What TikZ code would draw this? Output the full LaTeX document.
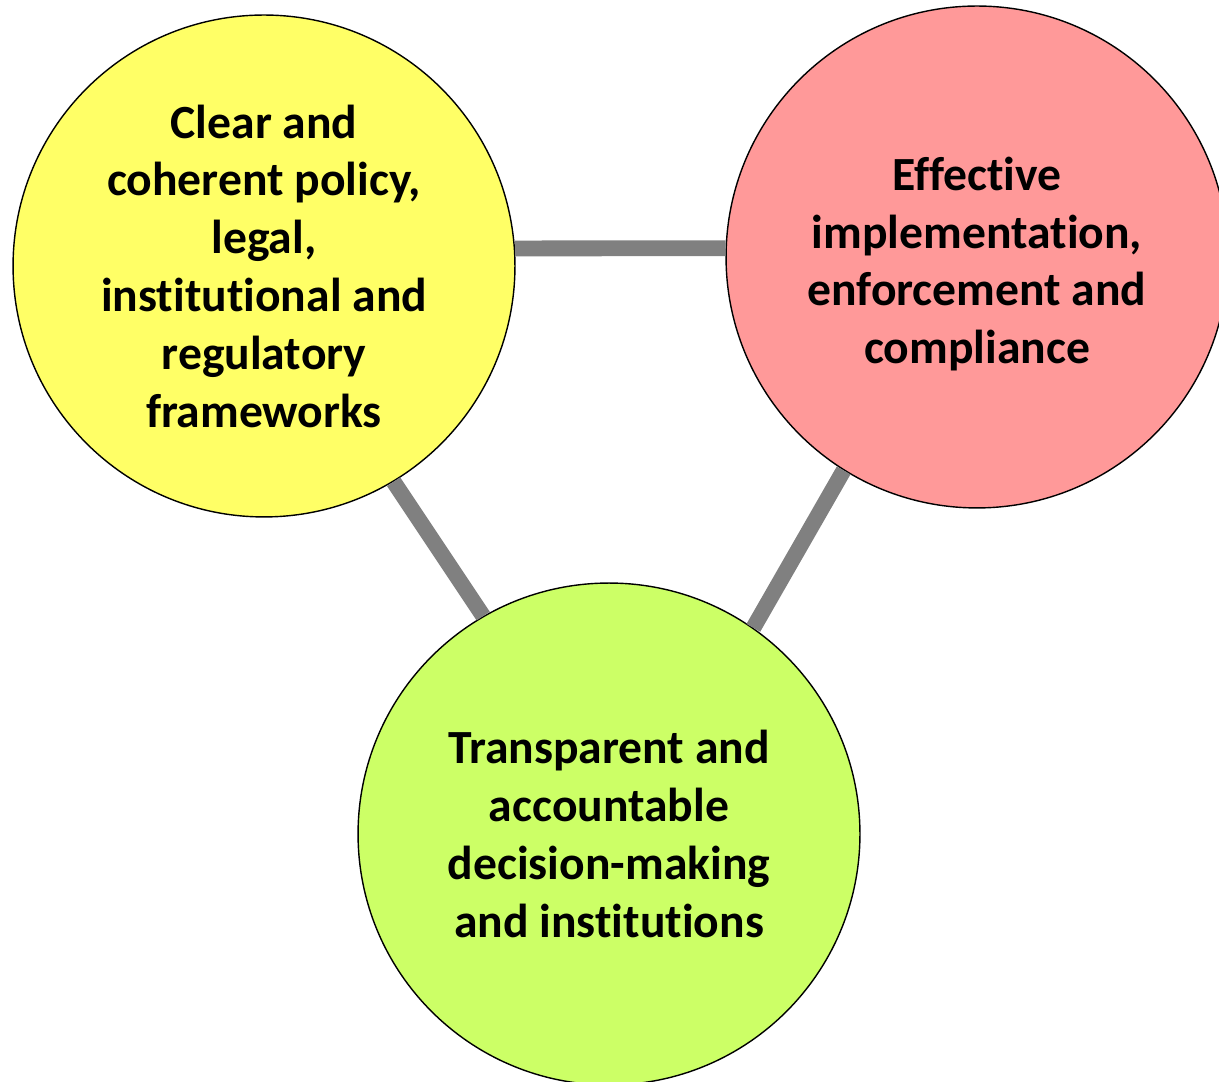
\documentclass[tikz,border=0pt]{standalone}
\usepackage{fontspec}
\setmainfont{Carlito}[Ligatures={NoCommon}]
\usepackage{tikz}

\definecolor{yelfill}{RGB}{255,255,102}
\definecolor{pnkfill}{RGB}{255,153,153}
\definecolor{grnfill}{RGB}{204,255,102}
\definecolor{linkgray}{RGB}{128,128,128}

\begin{document}
\begin{tikzpicture}[x=0.02cm, y=0.02cm,
  txt/.style={align=center, inner sep=0pt, font=\bfseries\fontsize{27.1}{32.9}\selectfont},
  disc/.style={txt, circle, draw=black, line width=0.8pt, minimum size=\Dc},
  link/.style={draw=linkgray, line width=\Lw}]
\newcommand{\Dc}{10.04cm};
\newcommand{\Lw}{9pt};
\useasboundingbox (0, 0) rectangle (1219, 1081);

% circles
\node[disc, fill=yelfill] (Yc) at (264, 815) {Clear and\\coherent policy,\\legal,\\institutional and\\regulatory\\frameworks};
\node[disc, fill=pnkfill] (Pc) at (977, 824) {};
\node[txt] (Pt) at ([yshift=-0.14cm]Pc.center) {Effective\\implementation,\\enforcement and\\compliance};
\node[disc, fill=grnfill] (Gc) at (609, 247) {Transparent and\\accountable\\decision-making\\and institutions};
%

% links
\draw[link] (Yc.4) -- (Pc.178);
\draw[link] (Yc.-59) -- (Gc.120);
\draw[link] (Pc.-122) -- (Gc.55);
%
\end{tikzpicture}
\end{document}
